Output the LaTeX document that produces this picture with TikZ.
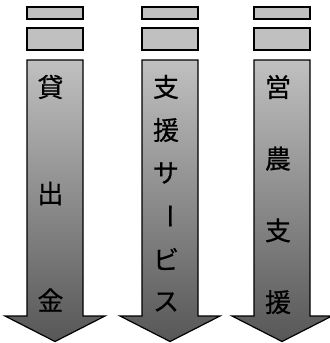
\documentclass[tikz,border=0pt]{standalone}
\usepackage{fontspec}
\newfontfamily\jpfont[FakeBold=0.6]{Noto Sans CJK JP}
\definecolor{boxgray}{HTML}{C0C0C0}
\definecolor{arrowdark}{HTML}{575757}
\begin{document}
\begin{tikzpicture}[x=0.75pt,y=0.75pt,
	box/.style={draw=black,line width=0.9pt,fill=boxgray},
	downarrow/.style={draw=black,line width=0.9pt,top color=boxgray,bottom color=arrowdark},
	kanji/.style={font=\jpfont\fontsize{19.5}{20}\selectfont,inner sep=0pt}]
	\useasboundingbox (0,0) rectangle (329,-343);
	% three columns: boxes and down arrows
	\foreach \cx in {55,170,282}{
		\draw[box] (\cx-28,-7) rectangle (\cx+28,-19);
		\draw[box] (\cx-28,-28) rectangle (\cx+28,-50);
		\draw[downarrow] (\cx-28,-60)--(\cx+28,-60)--(\cx+28,-316)--(\cx+50,-316)
			--(\cx,-341.5)--(\cx-50,-316)--(\cx-28,-316)--cycle;
	}
	% labels
	\foreach \t [count=\i] in {貸,出,金}
		\node[kanji] (kashi\i) at (50.5,{-87-106.5*(\i-1)}) {\t};
	\foreach \t/\r [count=\i] in {支/0,援/0,サ/0,ー/-90,ビ/0,ス/0}
		\node[kanji,rotate=\r] (shien\i) at (166,{-87-43*(\i-1)}) {\t};
	\foreach \t [count=\i] in {営,農,支,援}
		\node[kanji] (eino\i) at (278,{-87-71.7*(\i-1)}) {\t};
\end{tikzpicture}
\end{document}
